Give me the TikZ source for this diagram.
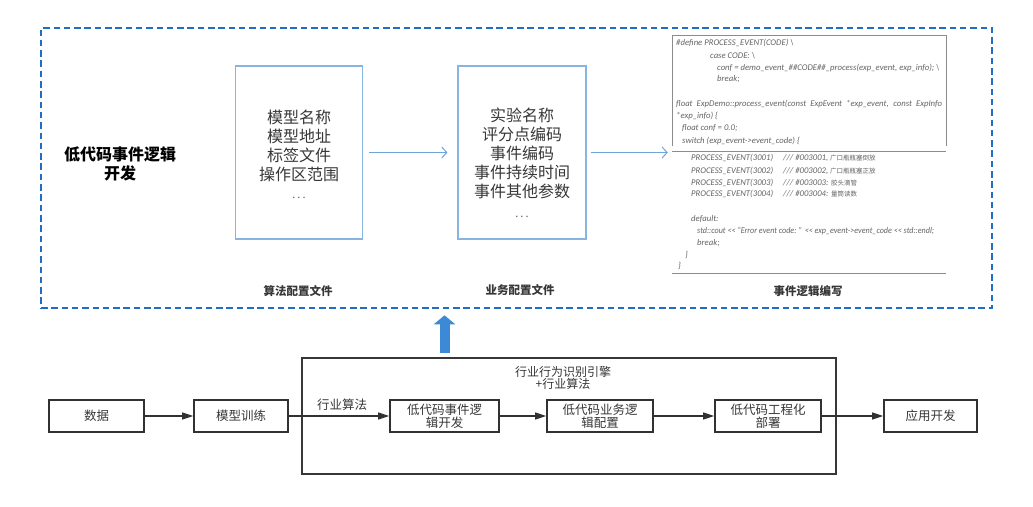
\documentclass[tikz,border=0pt]{standalone}
\usepackage{fontspec}
\newfontfamily\cjk{Noto Sans CJK SC}
\newfontfamily\codef{Carlito}
\usetikzlibrary{arrows.meta}
\definecolor{dashblue}{RGB}{30,110,195}
\definecolor{lightblue}{RGB}{135,180,225}
\definecolor{arrowblue}{RGB}{110,165,220}
\definecolor{fatblue}{RGB}{60,138,214}
\definecolor{txt}{RGB}{55,55,55}
\definecolor{codegray}{RGB}{100,100,100}
\definecolor{framegray}{RGB}{140,140,140}
\tikzset{
  bbox/.style={draw=txt!90!black, line width=1.6pt, minimum height=32pt, inner sep=0pt, align=center, text=txt, font=\cjk\fontsize{12.5}{13}\selectfont},
  flow/.style={draw=txt!90!black, line width=1.2pt, -{Triangle[length=11pt,width=7pt]}},
  cfg/.style={draw=lightblue, line width=1.1pt, minimum width=127pt, minimum height=173pt, inner sep=0pt},
  cfgtext/.style={align=center, text=txt, inner sep=0pt, font=\cjk\fontsize{16}{19}\selectfont},
  thin/.style={draw=arrowblue, line width=1pt, -{Straight Barb[length=5pt,width=11pt]}},
  lbl/.style={text=txt, font=\cjk\bfseries\fontsize{11.5}{13}\selectfont, inner sep=0pt},
  codeline/.style={anchor=west, inner sep=0pt, text=codegray, font=\codef\itshape\fontsize{8.7}{9}\selectfont},
}
\newcommand{\zh}[1]{{\cjk\fontsize{6.5}{7}\selectfont #1}}
\newcommand{\dotsrow}{{\fontsize{11}{12}\selectfont\color{txt!80}.\hspace{2pt}.\hspace{2pt}.}}
\begin{document}
\begin{tikzpicture}[x=1pt,y=-1pt]
\useasboundingbox[fill=white] (0,0) rectangle (1033,506);

% ---------- upper dashed panel ----------
\node[draw=dashblue, line width=2.6pt, dash pattern=on 6.5pt off 3.8pt, minimum width=951pt, minimum height=280pt, inner sep=0pt] (outer) at (516.5,168) {};
\node[text=black, align=center, font=\cjk\bfseries\fontsize{16}{18.5}\selectfont] (title) at (120,164) {低代码事件逻辑\\开发};

\node[cfg] (algo) at (299,152.5) {};
\node[cfgtext] (algot) at (299,154) {模型名称\\模型地址\\标签文件\\操作区范围\\[-1pt]\dotsrow};
\node[cfg, minimum width=128pt] (biz) at (522,152.5) {};
\node[cfgtext] (bizt) at (522,163) {实验名称\\评分点编码\\事件编码\\事件持续时间\\事件其他参数\\[1pt]\dotsrow};
\node[minimum width=274pt, minimum height=238pt, inner sep=0pt] (code) at (809,152) {};

\draw[thin, shorten <=6pt, shorten >=10pt] (algo.east) -- (biz.west);
\draw[thin, shorten <=4pt, shorten >=4pt] (biz.east) -- (biz.east -| code.west);

\node[lbl] (lalgo) at (298,291) {算法配置文件};
\node[lbl] (lbiz) at (520,290) {业务配置文件};
\node[lbl] (lcode) at (808,291) {事件逻辑编写};

% code screenshot frame
\draw[framegray, line width=0.9pt] (672,146) -- (672,35) -- (946,35) -- (946,146);
\draw[framegray, line width=0.9pt] (672,151) -- (946,151);
\draw[framegray, line width=0.9pt] (672,273) -- (946,273);

% code text
\node[codeline] (c1) at (676,43) {\#define PROCESS\_EVENT(CODE) \textbackslash};
\node[codeline] (c2) at (710,56) {case CODE: \textbackslash};
\node[codeline] (c3) at (717,68) {conf = demo\_event\_\#\#CODE\#\#\_process(exp\_event, exp\_info); \textbackslash};
\node[codeline] (c4) at (717,79) {break;};
\node[codeline] (c5) at (676,104) {\makebox[266pt][s]{float ExpDemo::process\_event(const ExpEvent *exp\_event, const ExpInfo}};
\node[codeline] (c6) at (676,116) {*exp\_info) \{};
\node[codeline] (c7) at (682,128) {float conf = 0.0;};
\node[codeline] (c8) at (682,141) {switch (exp\_event->event\_code) \{};
\node[codeline] (c9) at (691,158) {\makebox[92pt][l]{PROCESS\_EVENT(3001)}/// \#003001, \zh{广口瓶瓶塞倒放}};
\node[codeline] (c10) at (691,171) {\makebox[92pt][l]{PROCESS\_EVENT(3002)}/// \#003002, \zh{广口瓶瓶塞正放}};
\node[codeline] (c11) at (691,183) {\makebox[92pt][l]{PROCESS\_EVENT(3003)}/// \#003003: \zh{胶头滴管}};
\node[codeline] (c12) at (691,194) {\makebox[92pt][l]{PROCESS\_EVENT(3004)}/// \#003004: \zh{量筒读数}};
\node[codeline] (c13) at (691,219) {default:};
\node[codeline] (c14) at (697,231) {\scalebox{0.93}[1]{std::cout << “Error event code: ” << exp\_event->event\_code << std::endl;}};
\node[codeline] (c15) at (697,243) {break;};
\node[codeline] (c16) at (685,255) {\}};
\node[codeline] (c17) at (678,266) {\}};

% ---------- lower flow ----------
\node[draw=txt, line width=1.5pt, minimum width=534pt, minimum height=116pt, inner sep=0pt] (engine) at (569,416) {};
\node[text=txt, align=center, font=\cjk\fontsize{12}{12}\selectfont] (englbl) at (563,377.5) {行业行为识别引擎\\+行业算法};

\node[bbox, minimum width=95pt] (data) at (96.5,416) {数据};
\node[bbox, minimum width=94pt] (train) at (241,416) {模型训练};
\node[bbox, minimum width=109pt] (dev) at (444.5,416) {低代码事件逻\\辑开发};
\node[bbox, minimum width=106pt] (bizc) at (600,416) {低代码业务逻\\辑配置};
\node[bbox, minimum width=106pt] (eng) at (768,416) {低代码工程化\\部署};
\node[bbox, minimum width=93pt] (app) at (930.5,416) {应用开发};

\draw[flow] (data) -- (train);
\draw[flow] (train) -- node[above=2pt, pos=0.53, text=txt, font=\cjk\fontsize{12.5}{13}\selectfont] (hy) {行业算法} (dev);
\draw[flow] (dev) -- (bizc);
\draw[flow] (bizc) -- (eng);
\draw[flow] (eng) -- (app);

% big blue arrow
\coordinate (ba) at (444.5,353);
\draw[fatblue, line width=10pt, -{Triangle[length=9pt,width=21pt]}, shorten >=6pt] (ba) -- (ba |- outer.south);
\end{tikzpicture}
\end{document}
